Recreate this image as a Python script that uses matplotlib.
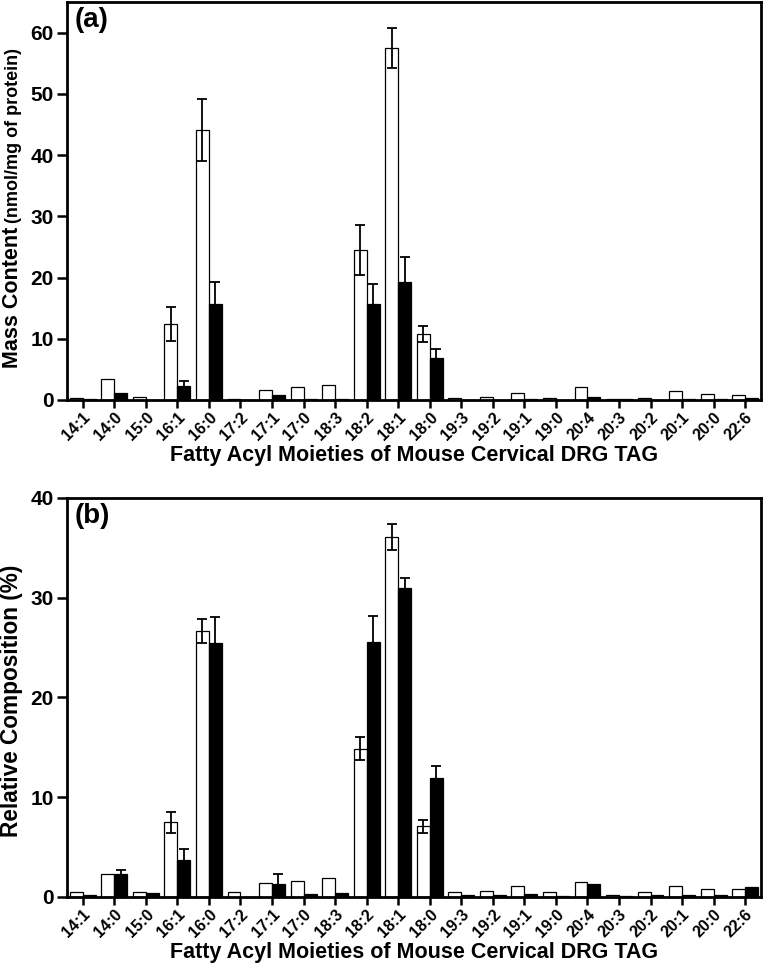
import matplotlib
matplotlib.use('Agg')
import matplotlib.pyplot as plt
import numpy as np

plt.rcParams['font.family'] = ['Liberation Sans', 'DejaVu Sans']
plt.rcParams['font.weight'] = 'bold'

# Data
acyl = ['14:1', '14:0', '15:0', '16:1', '16:0', '17:2', '17:1', '17:0', '18:3',
        '18:2', '18:1', '18:0', '19:3', '19:2', '19:1', '19:0', '20:4', '20:3',
        '20:2', '20:1', '20:0', '22:6']

# (a) mass content, nmol/mg of protein
mass_open = [0.3, 3.4, 0.5, 12.4, 44.1, 0.2, 1.7, 2.1, 2.5, 24.5, 57.5, 10.8,
             0.3, 0.55, 1.2, 0.35, 2.1, 0.1, 0.35, 1.4, 0.9, 0.75]
mass_open_err = [0, 0, 0, 2.8, 5.0, 0, 0, 0, 0, 4.1, 3.3, 1.3,
                 0, 0, 0, 0, 0, 0, 0, 0, 0, 0]
mass_filled = [0.1, 1.2, 0.05, 2.3, 15.7, 0.0, 0.8, 0.1, 0.1, 15.6, 19.3, 6.8,
               0.0, 0.05, 0.2, 0.0, 0.55, 0.15, 0.0, 0.1, 0.1, 0.4]
mass_filled_err = [0, 0, 0, 0.8, 3.5, 0, 0, 0, 0, 3.4, 4.1, 1.5,
                   0, 0, 0, 0, 0, 0, 0, 0, 0, 0]

# (b) relative composition, %
rel_open = [0.5, 2.3, 0.5, 7.5, 26.7, 0.45, 1.4, 1.6, 1.87, 14.86, 36.05, 7.1,
            0.47, 0.64, 1.1, 0.47, 1.54, 0.2, 0.47, 1.1, 0.8, 0.8]
rel_open_err = [0, 0, 0, 1.05, 1.2, 0, 0, 0, 0, 1.15, 1.3, 0.65,
                0, 0, 0, 0, 0, 0, 0, 0, 0, 0]
rel_filled = [0.2, 2.35, 0.37, 3.7, 25.5, 0.0, 1.25, 0.33, 0.37, 25.6, 31.0, 11.9,
              0.2, 0.2, 0.27, 0.05, 1.27, 0.05, 0.23, 0.23, 0.2, 0.97]
rel_filled_err = [0, 0.4, 0, 1.15, 2.6, 0, 1.05, 0, 0, 2.6, 1.0, 1.2,
                  0, 0, 0, 0, 0, 0, 0, 0, 0, 0]

x = np.arange(len(acyl))
w = 0.41

fig = plt.figure(figsize=(7.64, 9.65), dpi=100)
ax_a = fig.add_axes([0.0877, 0.5855, 0.9083, 0.4125])
ax_b = fig.add_axes([0.0877, 0.0705, 0.9083, 0.4135])

ekw = dict(ecolor='black', elinewidth=1.3, capsize=3.3, capthick=1.3)


def draw_panel(ax, open_v, open_e, fill_v, fill_e, ymax, yticks, tag):
    oe = [e if e > 0 else np.nan for e in open_e]
    fe = [e if e > 0 else np.nan for e in fill_e]
    ax.bar(x - w / 2, open_v, w, color='white', edgecolor='black', linewidth=0.9,
           yerr=oe, error_kw=ekw, zorder=2)
    ax.bar(x + w / 2, fill_v, w, color='black', edgecolor='black', linewidth=0.9,
           yerr=fe, error_kw=ekw, zorder=2)
    ax.set_xlim(-0.5, len(acyl) - 0.5)
    ax.set_ylim(0, ymax)
    ax.set_yticks(yticks)
    ax.set_xticks(x)
    ax.set_xticklabels(acyl, rotation=45, ha='right', va='top',
                       rotation_mode='anchor', fontsize=11.5, fontweight='bold')
    for lbl in ax.get_yticklabels():
        lbl.set_fontsize(15)
        lbl.set_fontweight('bold')
    for s in ax.spines.values():
        s.set_linewidth(2.0)
    ax.tick_params(axis='y', length=7.5, width=1.8, pad=2)
    ax.tick_params(axis='x', length=6, width=1.8, pad=1)
    ax.set_xlabel('Fatty Acyl Moieties of Mouse Cervical DRG TAG',
                  fontsize=15.5, fontweight='bold', labelpad=1)
    ax.text(0.011, 0.988, tag, transform=ax.transAxes, ha='left', va='top',
            fontsize=20, fontweight='bold')


draw_panel(ax_a, mass_open, mass_open_err, mass_filled, mass_filled_err,
           65, [0, 10, 20, 30, 40, 50, 60], '(a)')
draw_panel(ax_b, rel_open, rel_open_err, rel_filled, rel_filled_err,
           40, [0, 10, 20, 30, 40], '(b)')

# y labels as figure text so they sit where the reference has them
xb = 17.5 / 764
t1 = fig.text(xb, 1 - 368 / 965, 'Mass Content', rotation=90, rotation_mode='anchor',
              ha='left', va='baseline', fontsize=15.5, fontweight='bold')
fig.canvas.draw()
bb = t1.get_window_extent()
y2 = (bb.y1 + 4) / fig.bbox.height
fig.text(xb, y2, '(nmol/mg of protein)', rotation=90, rotation_mode='anchor',
         ha='left', va='baseline', fontsize=13, fontweight='bold')

fig.text(18.5 / 764, 1 - 701 / 965, 'Relative Composition (%)', rotation=90,
         rotation_mode='anchor', ha='center', va='baseline', fontsize=16.3,
         fontweight='bold')

fig.savefig('out.png', dpi=100)
